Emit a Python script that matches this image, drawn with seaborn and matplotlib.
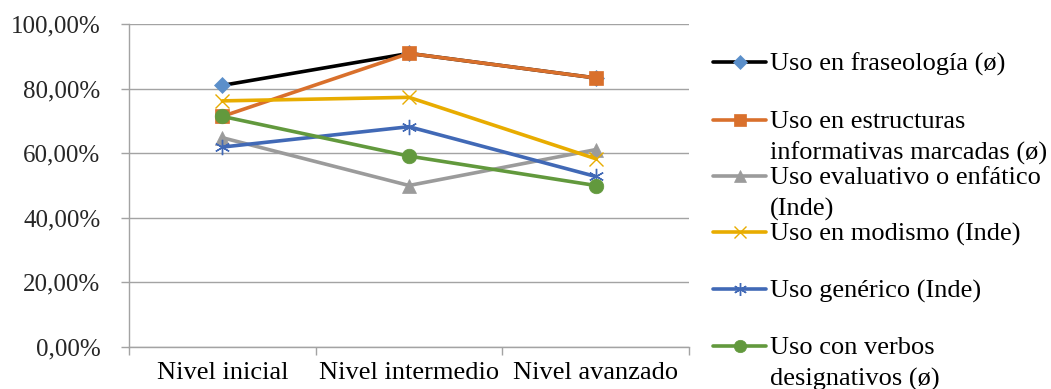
import matplotlib
matplotlib.use("Agg")
import matplotlib.pyplot as plt
from matplotlib.lines import Line2D
from matplotlib.ticker import FuncFormatter, FixedLocator
import pandas as pd
import seaborn as sns

# Levels and share of usage per category (percent)
niveles = ["Nivel inicial", "Nivel intermedio", "Nivel avanzado"]
fraseologia = [81.0, 90.9, 83.3]
estructuras = [71.4, 90.9, 83.3]
evaluativo = [64.8, 50.0, 61.1]
modismo = [76.2, 77.3, 58.3]
generico = [61.9, 68.2, 52.8]
verbos = [71.4, 59.1, 50.0]

series_labels = [
    "Uso en fraseología (ø)",
    "Uso en estructuras\ninformativas marcadas (ø)",
    "Uso evaluativo o enfático\n(Inde)",
    "Uso en modismo (Inde)",
    "Uso genérico (Inde)",
    "Uso con verbos\ndesignativos (ø)",
]
series_values = [fraseologia, estructuras, evaluativo, modismo, generico, verbos]

# styling: line colour, marker, marker face colour, marker size, marker edge width
styles = [
    dict(color="#000000", marker="D", mfc="#5B8FCA", mec="#5B8FCA", ms=8, mew=0.5),
    dict(color="#D9702C", marker="s", mfc="#D9702C", mec="#D9702C", ms=9.5, mew=0.5),
    dict(color="#9B9B9B", marker="^", mfc="#9B9B9B", mec="#9B9B9B", ms=10, mew=0.5),
    dict(color="#E8AC00", marker="x", mfc="none", mec="#E8AC00", ms=10, mew=1.0),
    dict(color="#4169B6", marker=(6, 2, 0), mfc="none", mec="#4169B6", ms=11, mew=1.0),
    dict(color="#62993D", marker="o", mfc="#62993D", mec="#62993D", ms=10.5, mew=0.5),
]

sns.set_style("white")
plt.rcParams["font.family"] = ["Liberation Serif", "DejaVu Serif"]

FS_Y = 18
FS = 19
W, H = 1051, 389
fig = plt.figure(figsize=(W / 100, H / 100), dpi=100)
ax = fig.add_axes([129 / W, 1 - 347 / H, 560 / W, 323 / H])

grid_c = "#A3A3A3"
for lab, vals, st in zip(series_labels, series_values, styles):
    df = pd.DataFrame({"nivel": niveles, "valor": vals})
    sns.lineplot(data=df, x="nivel", y="valor", ax=ax, color=st["color"],
                 lw=2.6, marker=st["marker"], markersize=st["ms"],
                 markerfacecolor=st["mfc"], markeredgecolor=st["mec"],
                 markeredgewidth=st["mew"], legend=False, zorder=3)

ax.set_xlim(-0.5, 2.5)
ax.set_ylim(0, 100)
ax.set_xlabel("")
ax.set_ylabel("")
ax.set_yticks([0, 20, 40, 60, 80, 100])
ax.yaxis.set_major_formatter(FuncFormatter(lambda v, p: f"{v:.2f}%".replace(".", ",")))
ax.yaxis.grid(True, color=grid_c, lw=1.0)
ax.set_axisbelow(True)
ax.set_xticks([0, 1, 2])
ax.set_xticklabels(niveles)
ax.xaxis.set_minor_locator(FixedLocator([-0.5, 0.5, 1.5, 2.5]))
ax.tick_params(axis="x", which="major", length=0, pad=11, labelsize=FS, colors="black")
ax.tick_params(axis="x", which="minor", length=5.5, width=1.0, color=grid_c, direction="out", bottom=True)
ax.tick_params(axis="y", which="major", length=5.5, width=1.0, color=grid_c, direction="out",
               pad=15, labelsize=FS_Y, left=True)
for s in ["top", "right"]:
    ax.spines[s].set_visible(False)
for s in ["left", "bottom"]:
    ax.spines[s].set_color(grid_c)
    ax.spines[s].set_linewidth(1.0)

# Legend built entry by entry in figure pixels
entry_y = [62, 120, 176, 232, 289, 346]
line_gap = 31
for lab, st, yy in zip(series_labels, styles, entry_y):
    fy = 1 - yy / H
    fig.add_artist(Line2D([713 / W, 766 / W], [fy, fy], transform=fig.transFigure,
                          color=st["color"], lw=2.6))
    fig.add_artist(Line2D([739.5 / W], [fy], transform=fig.transFigure, color=st["color"],
                          lw=0, marker=st["marker"], markersize=st["ms"] * 0.85,
                          markerfacecolor=st["mfc"], markeredgecolor=st["mec"],
                          markeredgewidth=st["mew"]))
    for i, part in enumerate(lab.split("\n")):
        fig.text(770 / W, 1 - (yy + i * line_gap) / H, part, fontsize=FS,
                 va="center_baseline", ha="left", color="black")

fig.savefig("out.png", dpi=100)
